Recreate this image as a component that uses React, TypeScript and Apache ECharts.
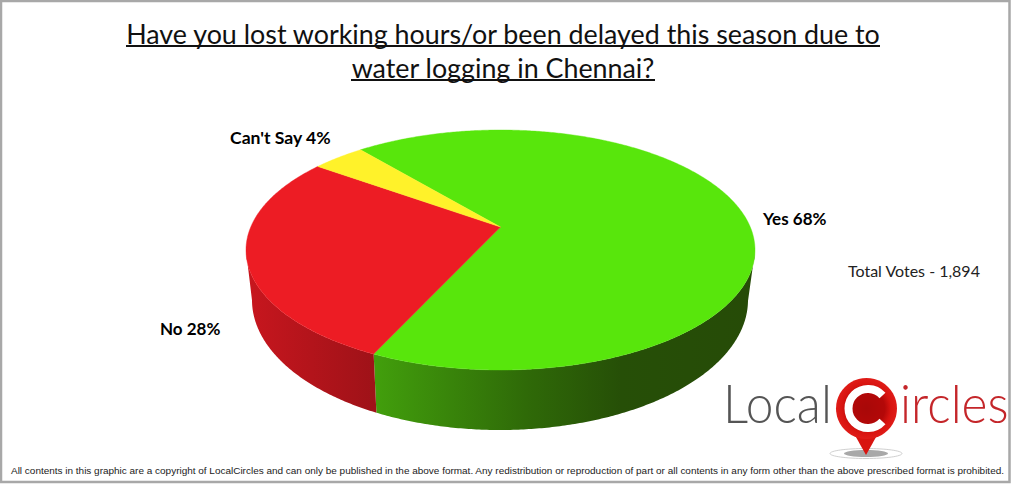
import React, { useEffect, useRef } from "react";
import * as echarts from "echarts";

const categories = ["Yes", "No", "Can't Say"];
const values = [68, 28, 4];
const titleLines = ["Have you lost working hours/or been delayed this season due to", "water logging in Chennai?"];
const totalVotes = "Total Votes - 1,894";
const footer = "All contents in this graphic are a copyright of LocalCircles and can only be published in the above format. Any redistribution or reproduction of part or all contents in any form other than the above prescribed format is prohibited.";

const topColors = ["#58e60c", "#ed1c24", "#fff22a"];
const sideStops: any[] = [
  [[0, "#429f0c"], [0.4, "#2f6a08"], [0.65, "#264f07"], [1, "#264b07"]],
  [[0, "#c8161e"], [1, "#9e1218"]],
  [[0, "#c8c000"], [1, "#c8c000"]],
];
const FONT = "Lato";

const top = { cx: 500.5, cy: 250, rx: 254.5, ry: 120 };
const bottom = { cx: 500, cy: 300, rx: 248, ry: 130 };
const TILT = 23 / 120;
const START = -40;

function rim(phiDeg: number) {
  const p = (phiDeg * Math.PI) / 180;
  const u = Math.sin(p), v = Math.cos(p);
  const d = 1 + TILT * v;
  return { X: (u * Math.sqrt(1 - TILT * TILT)) / d, Y: (v + TILT) / d };
}
const pt = (e: typeof top, r: { X: number; Y: number }) => [e.cx + e.rx * r.X, e.cy - e.ry * r.Y];

function renderSlice(params: any, api: any) {
  const total = values.reduce((a, b) => a + b, 0);
  let before = 0;
  for (let i = 0; i < params.dataIndex; i++) before += values[i];
  const a0 = START + (before / total) * 360;
  const a1 = a0 + (api.value(0) / total) * 360;
  const samples: { X: number; Y: number }[] = [];
  for (let a = a0; a < a1; a += 0.5) samples.push(rim(a));
  samples.push(rim(a1));
  const apex = [top.cx, top.cy - top.ry * TILT];
  const topPts = [apex, ...samples.map((s) => pt(top, s))];
  const front = samples.filter((s) => s.Y <= 0);
  const children: any[] = [];
  if (front.length > 1) {
    const sidePts = [...front.map((s) => pt(top, s)), ...front.slice().reverse().map((s) => pt(bottom, s))];
    children.push({
      type: "polygon",
      shape: { points: sidePts },
      style: {
        fill: new echarts.graphic.LinearGradient(0, 0, 1, 0,
          sideStops[params.dataIndex].map((s: any) => ({ offset: s[0], color: s[1] }))),
      },
    });
  }
  const c = topColors[params.dataIndex];
  children.push({ type: "polygon", shape: { points: topPts }, style: { fill: c, stroke: c, lineWidth: 0.4 } });
  return { type: "group", children };
}

const label = (i: number) => `${categories[i]} ${values[i]}%`;

export default function App() {
  const ref = useRef<HTMLDivElement>(null);
  useEffect(() => {
    const chart = echarts.init(ref.current!, undefined, { renderer: "svg" });
    const boldLabel = (i: number, x: number, y: number, size: number) => ({
      type: "text", x, y,
      style: { text: label(i), font: `bold ${size}px ${FONT}`, fill: "#000", verticalAlign: "middle" },
    });
    chart.setOption({
      animation: false,
      backgroundColor: "#ffffff",
      title: {
        text: titleLines.join("\n"),
        left: 498, top: 11, textAlign: "center",
        textStyle: { fontFamily: FONT, fontWeight: "normal", fontSize: 26.85, lineHeight: 34, color: "#111" },
      },
      series: [{
        type: "custom", coordinateSystem: "none", silent: true,
        data: values.map((v, i) => ({ name: categories[i], value: [v] })),
        renderItem: renderSlice,
      }],
      graphic: [
        { type: "rect", shape: { x: 1, y: 1, width: 1008.5, height: 481 }, style: { fill: "none", stroke: "#a8a8a8", lineWidth: 2.5 } },
        { type: "line", shape: { x1: 126, y1: 46, x2: 880, y2: 46 }, style: { stroke: "#111", lineWidth: 1.8 } },
        { type: "line", shape: { x1: 351, y1: 80, x2: 655, y2: 80 }, style: { stroke: "#111", lineWidth: 1.8 } },
        boldLabel(2, 230, 137, 17.6), boldLabel(0, 763, 218, 17), boldLabel(1, 160, 328, 17),
        { type: "text", x: 848, y: 270, style: { text: totalVotes, font: `16px ${FONT}`, fill: "#222", verticalAlign: "middle" } },
        { type: "text", x: 11, y: 470, style: { text: footer, font: `9.97px "Liberation Sans"`, fill: "#222", verticalAlign: "middle" } },
        // logo
        { type: "ellipse", shape: { cx: 866, cy: 453.5, rx: 36, ry: 5 }, style: { fill: "#ffffff", stroke: "#d0d0d0", lineWidth: 1 } },
        { type: "ellipse", shape: { cx: 866, cy: 453.5, rx: 22, ry: 3.5 }, style: { fill: "#a8a8a8" } },
        { type: "polygon", shape: { points: [[852, 430], [880, 430], [866, 455]] }, style: { fill: "#d81410" } },
        {
          type: "circle", shape: { cx: 866.5, cy: 408.5, r: 30.5 },
          style: { fill: new echarts.graphic.RadialGradient(0.5, 0.5, 0.5, [{ offset: 0, color: "#a80808" }, { offset: 0.6, color: "#b40808" }, { offset: 0.8, color: "#d81410" }, { offset: 1, color: "#e01c18" }]) },
        },
        { type: "arc", shape: { cx: 868, cy: 408.5, r: 19.5, startAngle: (42 * Math.PI) / 180, endAngle: (318 * Math.PI) / 180, clockwise: true }, style: { fill: "none", stroke: "#ffffff", lineWidth: 8 } },
        { type: "text", x: 723, y: 402, scaleX: 0.92, style: { text: "Local", font: `300 54px ${FONT}`, fill: "#555555", verticalAlign: "middle" } },
        { type: "text", x: 900, y: 402, scaleX: 0.92, style: { text: "ircles", font: `300 54px ${FONT}`, fill: "#c4262a", verticalAlign: "middle" } },
      ],
    });
    return () => chart.dispose();
  }, []);
  return <div ref={ref} style={{ position: "absolute", left: 0, top: 0, width: 1012, height: 485 }} />;
}
